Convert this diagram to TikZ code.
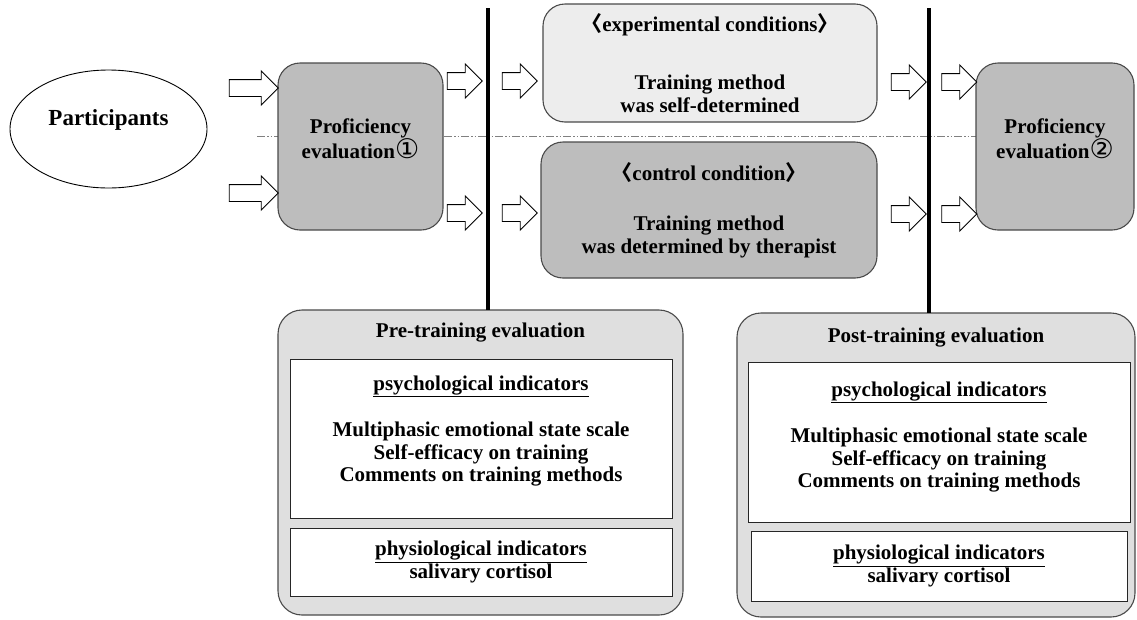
\documentclass[tikz,border=0pt]{standalone}
\usepackage{fontspec}
\setmainfont{Liberation Serif}
\newfontfamily\circfont{DejaVu Sans}
\newfontfamily\cjkfont{Noto Sans CJK JP}
\usetikzlibrary{shapes.geometric,shapes.arrows}

\definecolor{darkbox}{HTML}{BDBDBD}
\definecolor{lightbox}{HTML}{EDEDED}
\definecolor{evalbox}{HTML}{DFDFDF}
\definecolor{edgegray}{HTML}{4A4A4A}

\newcommand{\lbrk}{{\cjkfont 〈}}
\newcommand{\rbrk}{{\cjkfont 〉}}
\newcommand{\circnum}[1]{{\circfont\mdseries\fontsize{27}{22}\selectfont #1}}

\tikzset{
  every node/.style={font=\bfseries\fontsize{21}{22.5}\selectfont, inner sep=0pt, outer sep=0pt, align=center},
  stagebox/.style={draw=edgegray, line width=1.1pt, rounded corners=22pt},
  evalframe/.style={draw=edgegray, line width=1.1pt, fill=evalbox, rounded corners=24pt},
  listbox/.style={draw=black!85, line width=1pt, fill=white},
  blockarrow/.style={single arrow, draw=black, line width=0.9pt, fill=white,
    single arrow head extend=8.5pt, inner sep=8pt, minimum height=35pt},
  divider/.style={line width=3.5pt},
}

\begin{document}
\begin{tikzpicture}[x=1pt,y=-1pt]
  \useasboundingbox (0,0) rectangle (1137,619);
  % separator between the two conditions
  \draw[gray, line width=0.8pt, dash pattern=on 8pt off 2pt on 1.5pt off 2pt on 1.5pt off 2pt] (257,136) -- (976,136);

  \node[draw, ellipse, line width=0.9pt, minimum width=197pt, minimum height=118pt] (part) at (108.5,129) {};
  \node[font=\bfseries\fontsize{23}{24}\selectfont] (parttext) at (108.5,120) {Participants};

  \node[stagebox, fill=darkbox, minimum width=165pt, minimum height=167pt] (prof1) at (360.5,146.5) {};
  \node (prof1text) at (360.5,139) {Proficiency\\evaluation\circnum{①}};

  \node[stagebox, fill=lightbox, minimum width=334pt, minimum height=118pt] (exper) at (710,63)
    {\lbrk experimental conditions\rbrk\\[36pt]Training method\\was self-determined};
  \node[stagebox, fill=darkbox, minimum width=336pt, minimum height=136pt] (ctrl) at (709,210)
    {\lbrk control condition\rbrk\\[28pt]Training method\\was determined by therapist};

  \node[stagebox, fill=darkbox, minimum width=158pt, minimum height=167pt] (prof2) at (1055,146.5) {};
  \node (prof2text) at (1055,139) {Proficiency\\evaluation\circnum{②}};

  % evaluation before training
  \node[evalframe, minimum width=405pt, minimum height=305pt] (pre) at (480.5,462.5) {};
  \node (pretitle) at (480.5,333) {Pre-training evaluation};
  \node[listbox, minimum width=382pt, minimum height=159pt] (prepsy) at (481,438.5) {};
  \node (prepsytext) at (481,431) {\underline{psychological indicators}\\[24pt]Multiphasic emotional state scale\\Self-efficacy on training\\Comments on training methods};
  \node[listbox, minimum width=382pt, minimum height=68pt] (prephys) at (481,562)
    {\underline{physiological indicators}\\salivary cortisol};

  % evaluation after training
  \node[evalframe, minimum width=398pt, minimum height=304pt] (post) at (936,465) {};
  \node (posttitle) at (936,338) {Post-training evaluation};
  \node[listbox, minimum width=382pt, minimum height=160pt] (postpsy) at (939,442) {};
  \node (postpsytext) at (939,437) {\underline{psychological indicators}\\[24pt]Multiphasic emotional state scale\\Self-efficacy on training\\Comments on training methods};
  \node[listbox, minimum width=376pt, minimum height=70pt] (postphys) at (939,566)
    {\underline{physiological indicators}\\salivary cortisol};

  % block arrows
  \node[blockarrow, minimum height=49pt] (inA) at (249.5,88) {};
  \node[blockarrow, minimum height=49pt] (inB) at (249.5,193) {};
  \node[blockarrow] (outA) at (460.5,81) {};
  \node[blockarrow] (outB) at (460.5,213) {};
  \node[blockarrow] (startA) at (515.5,81) {};
  \node[blockarrow] (startB) at (515.5,213) {};
  \node[blockarrow] (endA) at (904.5,82) {};
  \node[blockarrow] (endB) at (904.5,214) {};
  \node[blockarrow] (lastA) at (955,82) {};
  \node[blockarrow] (lastB) at (955,214) {};

  % time cuts
  \coordinate (cut1) at (488,8);
  \coordinate (cut2) at (929,8);
  \draw[divider] (cut1) -- (cut1 |- pre.north);
  \draw[divider] (cut2) -- (cut2 |- post.north);
\end{tikzpicture}
\end{document}
